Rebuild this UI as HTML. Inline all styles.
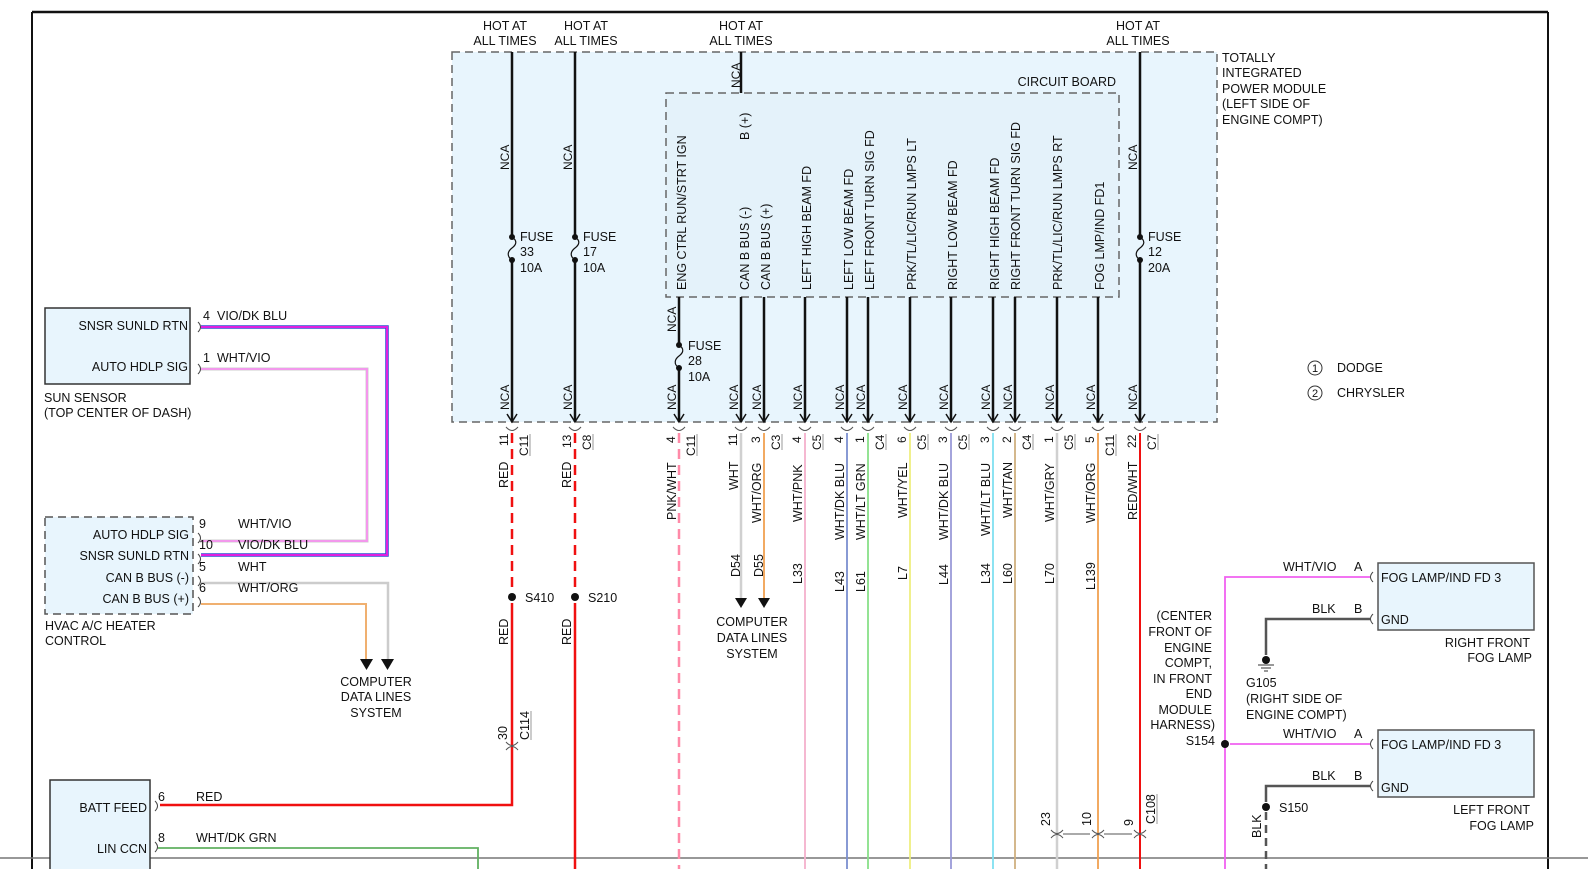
<!DOCTYPE html>
<html><head><meta charset="utf-8"><style>
html,body{margin:0;padding:0;background:#fff;}
svg{display:block;font-family:"Liberation Sans",Arial,sans-serif;font-size:12.5px;fill:#111;}
text{fill:#111;}
</style></head><body>
<svg width="1588" height="869" viewBox="0 0 1588 869" xmlns="http://www.w3.org/2000/svg">
<!-- frame -->
<line x1="32" y1="12" x2="1548" y2="12" stroke="#111" stroke-width="2.5"/>
<line x1="32" y1="12" x2="32" y2="869" stroke="#111" stroke-width="2"/>
<line x1="1548" y1="12" x2="1548" y2="869" stroke="#111" stroke-width="2"/>
<line x1="0" y1="858" x2="1588" y2="858" stroke="#777" stroke-width="1.5"/>

<!-- main module -->
<rect x="452" y="52" width="765" height="370" fill="#e8f5fd" stroke="#666" stroke-width="1.5" stroke-dasharray="8,5"/>
<rect x="666" y="93" width="453" height="204" fill="#e4f2fa" stroke="#666" stroke-width="1.5" stroke-dasharray="8,5"/>
<text x="1116" y="86" text-anchor="end">CIRCUIT BOARD</text>
<g><text x="1222" y="62">TOTALLY</text><text x="1222" y="77">INTEGRATED</text><text x="1222" y="93">POWER MODULE</text><text x="1222" y="108">(LEFT SIDE OF</text><text x="1222" y="124">ENGINE COMPT)</text></g>

<!-- hot at all times -->
<g text-anchor="middle">
<text x="505" y="30">HOT AT</text><text x="505" y="45">ALL TIMES</text>
<text x="586" y="30">HOT AT</text><text x="586" y="45">ALL TIMES</text>
<text x="741" y="30">HOT AT</text><text x="741" y="45">ALL TIMES</text>
<text x="1138" y="30">HOT AT</text><text x="1138" y="45">ALL TIMES</text>
</g>

<!-- black wires inside module -->
<g stroke="#111" stroke-width="2.5" fill="none">
<path d="M512 52V237M512 260V422"/>
<path d="M575 52V237M575 260V422"/>
<path d="M1140 52V237M1140 260V422"/>
<path d="M741 52V93"/>
<path d="M679 297V345M679 368V422"/>
<path d="M741 297V422M764 297V422M805 297V422M847 297V422M868 297V422M910 297V422M951 297V422M993 297V422M1015 297V422M1057 297V422M1098 297V422"/>
</g>
<!-- fuses -->
<g fill="#111">
<circle cx="512" cy="237" r="3"/><circle cx="512" cy="260" r="3"/>
<circle cx="575" cy="237" r="3"/><circle cx="575" cy="260" r="3"/>
<circle cx="1140" cy="237" r="3"/><circle cx="1140" cy="260" r="3"/>
<circle cx="679" cy="345" r="3"/><circle cx="679" cy="368" r="3"/>
</g>
<g stroke="#111" stroke-width="1.2" fill="none">
<path d="M512 237c6 4 4 8 0 11s-6 8 0 12"/>
<path d="M575 237c6 4 4 8 0 11s-6 8 0 12"/>
<path d="M1140 237c6 4 4 8 0 11s-6 8 0 12"/>
<path d="M679 345c6 4 4 8 0 11s-6 8 0 12"/>
</g>
<text x="520" y="241">FUSE</text><text x="520" y="256">33</text><text x="520" y="272">10A</text>
<text x="583" y="241">FUSE</text><text x="583" y="256">17</text><text x="583" y="272">10A</text>
<text x="1148" y="241">FUSE</text><text x="1148" y="256">12</text><text x="1148" y="272">20A</text>
<text x="688" y="350">FUSE</text><text x="688" y="365">28</text><text x="688" y="381">10A</text>

<!-- arrowheads -->
<g stroke="#111" stroke-width="1.5" fill="none">
<path d="M507 414L512 422L517 414M570 414L575 422L580 414M674 414L679 422L684 414M736 414L741 422L746 414M759 414L764 422L769 414M800 414L805 422L810 414M842 414L847 422L852 414M863 414L868 422L873 414M905 414L910 422L915 414M946 414L951 422L956 414M988 414L993 422L998 414M1010 414L1015 422L1020 414M1052 414L1057 422L1062 414M1093 414L1098 422L1103 414M1135 414L1140 422L1145 414"/>
</g>
<!-- connector caps -->
<g stroke="#555" stroke-width="1" fill="none">
<path d="M506 427q6 7 12 0M569 427q6 7 12 0M673 427q6 7 12 0M735 427q6 7 12 0M758 427q6 7 12 0M799 427q6 7 12 0M841 427q6 7 12 0M862 427q6 7 12 0M904 427q6 7 12 0M945 427q6 7 12 0M987 427q6 7 12 0M1009 427q6 7 12 0M1051 427q6 7 12 0M1092 427q6 7 12 0M1134 427q6 7 12 0"/>
</g>

<!-- NCA labels (rotated) -->
<g font-size="12">
<text transform="translate(509,170) rotate(-90)">NCA</text>
<text transform="translate(572,170) rotate(-90)">NCA</text>
<text transform="translate(1137,170) rotate(-90)">NCA</text>
<text transform="translate(740,88) rotate(-90)">NCA</text>
<text transform="translate(676,332) rotate(-90)">NCA</text>
<text transform="translate(509,410) rotate(-90)">NCA</text>
<text transform="translate(572,410) rotate(-90)">NCA</text>
<text transform="translate(676,410) rotate(-90)">NCA</text>
<text transform="translate(738,410) rotate(-90)">NCA</text>
<text transform="translate(761,410) rotate(-90)">NCA</text>
<text transform="translate(802,410) rotate(-90)">NCA</text>
<text transform="translate(844,410) rotate(-90)">NCA</text>
<text transform="translate(865,410) rotate(-90)">NCA</text>
<text transform="translate(907,410) rotate(-90)">NCA</text>
<text transform="translate(948,410) rotate(-90)">NCA</text>
<text transform="translate(990,410) rotate(-90)">NCA</text>
<text transform="translate(1012,410) rotate(-90)">NCA</text>
<text transform="translate(1054,410) rotate(-90)">NCA</text>
<text transform="translate(1095,410) rotate(-90)">NCA</text>
<text transform="translate(1137,410) rotate(-90)">NCA</text>
</g>

<!-- circuit board pin names -->
<g font-size="12.5">
<text transform="translate(686,290) rotate(-90)">ENG CTRL RUN/STRT IGN</text>
<text transform="translate(749,140) rotate(-90)">B (+)</text>
<text transform="translate(749,290) rotate(-90)">CAN B BUS (-)</text>
<text transform="translate(770,290) rotate(-90)">CAN B BUS (+)</text>
<text transform="translate(811,290) rotate(-90)">LEFT HIGH BEAM FD</text>
<text transform="translate(853,290) rotate(-90)">LEFT LOW BEAM FD</text>
<text transform="translate(874,290) rotate(-90)">LEFT FRONT TURN SIG FD</text>
<text transform="translate(916,290) rotate(-90)">PRK/TL/LIC/RUN LMPS LT</text>
<text transform="translate(957,290) rotate(-90)">RIGHT LOW BEAM FD</text>
<text transform="translate(999,290) rotate(-90)">RIGHT HIGH BEAM FD</text>
<text transform="translate(1020,290) rotate(-90)">RIGHT FRONT TURN SIG FD</text>
<text transform="translate(1062,290) rotate(-90)">PRK/TL/LIC/RUN LMPS RT</text>
<text transform="translate(1104,290) rotate(-90)">FOG LMP/IND FD1</text>
</g>

<!-- wires below module -->
<g fill="none" stroke-width="2.5">
<path d="M512 433V592" stroke="#f01010" stroke-dasharray="10,6"/>
<path d="M512 603V805H160" stroke="#f01010"/>
<path d="M575 433V592" stroke="#f01010" stroke-dasharray="10,6"/>
<path d="M575 603V869" stroke="#f01010"/>
<path d="M679 433V869" stroke="#ff8aa8" stroke-dasharray="10,6"/>
<path d="M741 433V600" stroke="#d0d0d0"/>
<path d="M764 433V600" stroke="#f0a050" stroke-width="1.8"/>
<path d="M805 433V869" stroke="#f4b0cc" stroke-width="1.8"/>
<path d="M847 433V869" stroke="#7b8fd0" stroke-width="1.8"/>
<path d="M868 433V869" stroke="#88e088" stroke-width="1.8"/>
<path d="M910 433V869" stroke="#eeee80" stroke-width="1.8"/>
<path d="M951 433V869" stroke="#9a9ad8" stroke-width="1.8"/>
<path d="M993 433V869" stroke="#80e0f0" stroke-width="1.8"/>
<path d="M1015 433V869" stroke="#d0b080" stroke-width="1.8"/>
<path d="M1057 433V869" stroke="#d0d0d0"/>
<path d="M1098 433V869" stroke="#f0a050" stroke-width="1.8"/>
<path d="M1140 433V869" stroke="#f01010" stroke-width="2"/>
</g>
<!-- C108 connector caps -->
<g stroke="#555" stroke-width="1" fill="none">
<path d="M1051 830q6 7 12 0M1051 838q6-7 12 0M1092 830q6 7 12 0M1092 838q6-7 12 0M1134 830q6 7 12 0M1134 838q6-7 12 0M1063 834H1090M1104 834H1132"/>
<path d="M506 742q6 7 12 0M506 750q6-7 12 0"/>
</g>
<text transform="translate(1050,826) rotate(-90)">23</text>
<text transform="translate(1091,826) rotate(-90)">10</text>
<text transform="translate(1133,826) rotate(-90)">9</text>
<text transform="translate(1155,824) rotate(-90)">C108</text>
<line x1="1157" y1="794" x2="1157" y2="824" stroke="#999"/>
<text transform="translate(507,740) rotate(-90)">30</text>
<text transform="translate(529,740) rotate(-90)">C114</text>
<line x1="531" y1="711" x2="531" y2="740" stroke="#999"/>

<!-- splices -->
<g fill="#111"><circle cx="512" cy="597" r="4"/><circle cx="575" cy="597" r="4"/></g>
<text x="525" y="602">S410</text><text x="588" y="602">S210</text>
<text transform="translate(508,645) rotate(-90)">RED</text>
<text transform="translate(571,645) rotate(-90)">RED</text>

<!-- pin numbers & connectors -->
<g font-size="12">
<text transform="translate(508,446) rotate(-90)">11</text>
<text transform="translate(571,448) rotate(-90)">13</text>
<text transform="translate(675,443) rotate(-90)">4</text>
<text transform="translate(737,446) rotate(-90)">11</text>
<text transform="translate(760,443) rotate(-90)">3</text>
<text transform="translate(801,443) rotate(-90)">4</text>
<text transform="translate(843,443) rotate(-90)">4</text>
<text transform="translate(864,443) rotate(-90)">1</text>
<text transform="translate(906,443) rotate(-90)">6</text>
<text transform="translate(947,443) rotate(-90)">3</text>
<text transform="translate(989,443) rotate(-90)">3</text>
<text transform="translate(1011,443) rotate(-90)">2</text>
<text transform="translate(1053,443) rotate(-90)">1</text>
<text transform="translate(1094,443) rotate(-90)">5</text>
<text transform="translate(1136,448) rotate(-90)">22</text>
<text transform="translate(528,456) rotate(-90)">C11</text>
<text transform="translate(591,450) rotate(-90)">C8</text>
<text transform="translate(695,456) rotate(-90)">C11</text>
<text transform="translate(780,450) rotate(-90)">C3</text>
<text transform="translate(821,450) rotate(-90)">C5</text>
<text transform="translate(884,450) rotate(-90)">C4</text>
<text transform="translate(926,450) rotate(-90)">C5</text>
<text transform="translate(967,450) rotate(-90)">C5</text>
<text transform="translate(1031,450) rotate(-90)">C4</text>
<text transform="translate(1073,450) rotate(-90)">C5</text>
<text transform="translate(1114,456) rotate(-90)">C11</text>
<text transform="translate(1156,450) rotate(-90)">C7</text>
</g>
<g stroke="#999" stroke-width="1">
<line x1="530" y1="434" x2="530" y2="456"/><line x1="593" y1="434" x2="593" y2="450"/><line x1="697" y1="434" x2="697" y2="456"/>
<line x1="782" y1="434" x2="782" y2="450"/><line x1="823" y1="434" x2="823" y2="450"/><line x1="886" y1="434" x2="886" y2="450"/>
<line x1="928" y1="434" x2="928" y2="450"/><line x1="969" y1="434" x2="969" y2="450"/><line x1="1033" y1="434" x2="1033" y2="450"/>
<line x1="1075" y1="434" x2="1075" y2="450"/><line x1="1116" y1="434" x2="1116" y2="456"/><line x1="1158" y1="434" x2="1158" y2="450"/>
</g>

<!-- wire color labels -->
<g font-size="12.5">
<text transform="translate(508,488) rotate(-90)">RED</text>
<text transform="translate(571,488) rotate(-90)">RED</text>
<text transform="translate(676,520) rotate(-90)">PNK/WHT</text>
<text transform="translate(738,490) rotate(-90)">WHT</text>
<text transform="translate(761,523) rotate(-90)">WHT/ORG</text>
<text transform="translate(802,522) rotate(-90)">WHT/PNK</text>
<text transform="translate(844,540) rotate(-90)">WHT/DK BLU</text>
<text transform="translate(865,540) rotate(-90)">WHT/LT GRN</text>
<text transform="translate(907,518) rotate(-90)">WHT/YEL</text>
<text transform="translate(948,540) rotate(-90)">WHT/DK BLU</text>
<text transform="translate(990,536) rotate(-90)">WHT/LT BLU</text>
<text transform="translate(1012,518) rotate(-90)">WHT/TAN</text>
<text transform="translate(1054,522) rotate(-90)">WHT/GRY</text>
<text transform="translate(1095,523) rotate(-90)">WHT/ORG</text>
<text transform="translate(1137,520) rotate(-90)">RED/WHT</text>
<text transform="translate(740,577) rotate(-90)">D54</text>
<text transform="translate(763,577) rotate(-90)">D55</text>
<text transform="translate(802,584) rotate(-90)">L33</text>
<text transform="translate(844,592) rotate(-90)">L43</text>
<text transform="translate(865,592) rotate(-90)">L61</text>
<text transform="translate(907,580) rotate(-90)">L7</text>
<text transform="translate(948,585) rotate(-90)">L44</text>
<text transform="translate(990,584) rotate(-90)">L34</text>
<text transform="translate(1012,584) rotate(-90)">L60</text>
<text transform="translate(1054,584) rotate(-90)">L70</text>
<text transform="translate(1095,590) rotate(-90)">L139</text>
</g>
<g fill="#111"><path d="M735 598h12l-6 10z"/><path d="M758 598h12l-6 10z"/></g>
<g text-anchor="middle"><text x="752" y="626">COMPUTER</text><text x="752" y="642">DATA LINES</text><text x="752" y="658">SYSTEM</text></g>

<!-- sun sensor -->
<rect x="45" y="308" width="145" height="76" fill="#e8f5fd" stroke="#333" stroke-width="1.5"/>
<text x="188" y="330" text-anchor="end">SNSR SUNLD RTN</text>
<text x="188" y="371" text-anchor="end">AUTO HDLP SIG</text>
<text x="44" y="402">SUN SENSOR</text><text x="44" y="417">(TOP CENTER OF DASH)</text>
<!-- hvac -->
<rect x="45" y="517" width="148" height="97" fill="#e8f5fd" stroke="#555" stroke-width="1.5" stroke-dasharray="8,5"/>
<text x="189" y="539" text-anchor="end">AUTO HDLP SIG</text>
<text x="189" y="560" text-anchor="end">SNSR SUNLD RTN</text>
<text x="189" y="582" text-anchor="end">CAN B BUS (-)</text>
<text x="189" y="603" text-anchor="end">CAN B BUS (+)</text>
<text x="45" y="630">HVAC A/C HEATER</text><text x="45" y="645">CONTROL</text>
<g stroke="#444" stroke-width="1" fill="none">
<path d="M198 322q5 5 0 10M198 364q5 5 0 10M198 533q5 5 0 10M198 554q5 5 0 10M198 576q5 5 0 10M198 597q5 5 0 10"/>
</g>
<g fill="none">
<path d="M201 327H387V555H201" stroke="#3050d0" stroke-width="3.5"/>
<path d="M201 327H387V555H201" stroke="#e020e0" stroke-width="2"/>
<path d="M201 369H367V541H201" stroke="#ccc" stroke-width="3"/>
<path d="M201 369H367V541H201" stroke="#f890f0" stroke-width="1.8"/>
<path d="M201 583H388V660" stroke="#ccc" stroke-width="2.5"/>
<path d="M201 604H366V660" stroke="#f0b070" stroke-width="2"/>
</g>
<g font-size="12.5">
<text x="203" y="320">4</text><text x="217" y="320">VIO/DK BLU</text>
<text x="203" y="362">1</text><text x="217" y="362">WHT/VIO</text>
<text x="199" y="528">9</text><text x="238" y="528">WHT/VIO</text>
<text x="199" y="549">10</text><text x="238" y="549">VIO/DK BLU</text>
<text x="199" y="571">5</text><text x="238" y="571">WHT</text>
<text x="199" y="592">6</text><text x="238" y="592">WHT/ORG</text>
</g>
<g fill="#111"><path d="M360 659h13l-6.5 11z"/><path d="M381 659h13l-6.5 11z"/></g>
<g text-anchor="middle"><text x="376" y="686">COMPUTER</text><text x="376" y="701">DATA LINES</text><text x="376" y="717">SYSTEM</text></g>

<!-- batt feed box -->
<rect x="50" y="780" width="100" height="95" fill="#e8f5fd" stroke="#333" stroke-width="1.5"/>
<text x="147" y="812" text-anchor="end">BATT FEED</text>
<text x="147" y="853" text-anchor="end">LIN CCN</text>
<g stroke="#444" stroke-width="1" fill="none"><path d="M155 801q5 5 0 10M155 842q5 5 0 10"/></g>
<path d="M158 848H478V869" stroke="#60b060" stroke-width="1.8" fill="none"/>
<text x="158" y="801">6</text><text x="196" y="801">RED</text>
<text x="158" y="842">8</text><text x="196" y="842">WHT/DK GRN</text>

<!-- legend -->
<circle cx="1315" cy="368" r="7" fill="none" stroke="#333"/><text x="1315" y="372" text-anchor="middle" font-size="11">1</text>
<circle cx="1315" cy="393" r="7" fill="none" stroke="#333"/><text x="1315" y="397" text-anchor="middle" font-size="11">2</text>
<text x="1337" y="372">DODGE</text><text x="1337" y="397">CHRYSLER</text>

<!-- fog lamps -->
<rect x="1378" y="563" width="156" height="67" fill="#e8f5fd" stroke="#555" stroke-width="1.5"/>
<rect x="1378" y="730" width="156" height="67" fill="#e8f5fd" stroke="#555" stroke-width="1.5"/>
<text x="1381" y="582">FOG LAMP/IND FD 3</text><text x="1381" y="624">GND</text>
<text x="1381" y="749">FOG LAMP/IND FD 3</text><text x="1381" y="792">GND</text>
<g stroke="#444" stroke-width="1" fill="none"><path d="M1373 572q-5 5 0 10M1373 614q-5 5 0 10M1373 739q-5 5 0 10M1373 781q-5 5 0 10"/></g>
<path d="M1370 577H1225V869" stroke="#f060f0" stroke-width="1.8" fill="none"/>
<path d="M1230 744H1370" stroke="#f060f0" stroke-width="1.8" fill="none"/>
<circle cx="1225" cy="744" r="4" fill="#111"/>
<path d="M1370 619H1266V655" stroke="#555" stroke-width="2.5" fill="none"/>
<path d="M1370 786H1266V802" stroke="#555" stroke-width="2.5" fill="none"/>
<path d="M1266 812V869" stroke="#555" stroke-width="2.5" fill="none" stroke-dasharray="8,5"/>
<circle cx="1266" cy="807" r="4" fill="#111"/>
<circle cx="1266" cy="660" r="4" fill="#111"/>
<g stroke="#333" stroke-width="1"><line x1="1258" y1="665" x2="1274" y2="665"/><line x1="1261" y1="668" x2="1271" y2="668"/><line x1="1264" y1="671" x2="1268" y2="671"/></g>
<text x="1246" y="687">G105</text><text x="1246" y="703">(RIGHT SIDE OF</text><text x="1246" y="719">ENGINE COMPT)</text>
<text x="1279" y="812">S150</text>
<text transform="translate(1261,838) rotate(-90)">BLK</text>
<text x="1283" y="571">WHT/VIO</text><text x="1354" y="571">A</text>
<text x="1312" y="613">BLK</text><text x="1354" y="613">B</text>
<text x="1283" y="738">WHT/VIO</text><text x="1354" y="738">A</text>
<text x="1312" y="780">BLK</text><text x="1354" y="780">B</text>
<g text-anchor="end">
<text x="1530" y="647">RIGHT FRONT</text><text x="1532" y="662">FOG LAMP</text>
<text x="1530" y="814">LEFT FRONT</text><text x="1534" y="830">FOG LAMP</text>
<text x="1212" y="620">(CENTER</text><text x="1212" y="636">FRONT OF</text><text x="1212" y="652">ENGINE</text><text x="1212" y="667">COMPT,</text><text x="1212" y="683">IN FRONT</text><text x="1212" y="698">END</text><text x="1212" y="714">MODULE</text><text x="1215" y="729">HARNESS)</text><text x="1215" y="745">S154</text>
</g>
</svg>
</body></html>
